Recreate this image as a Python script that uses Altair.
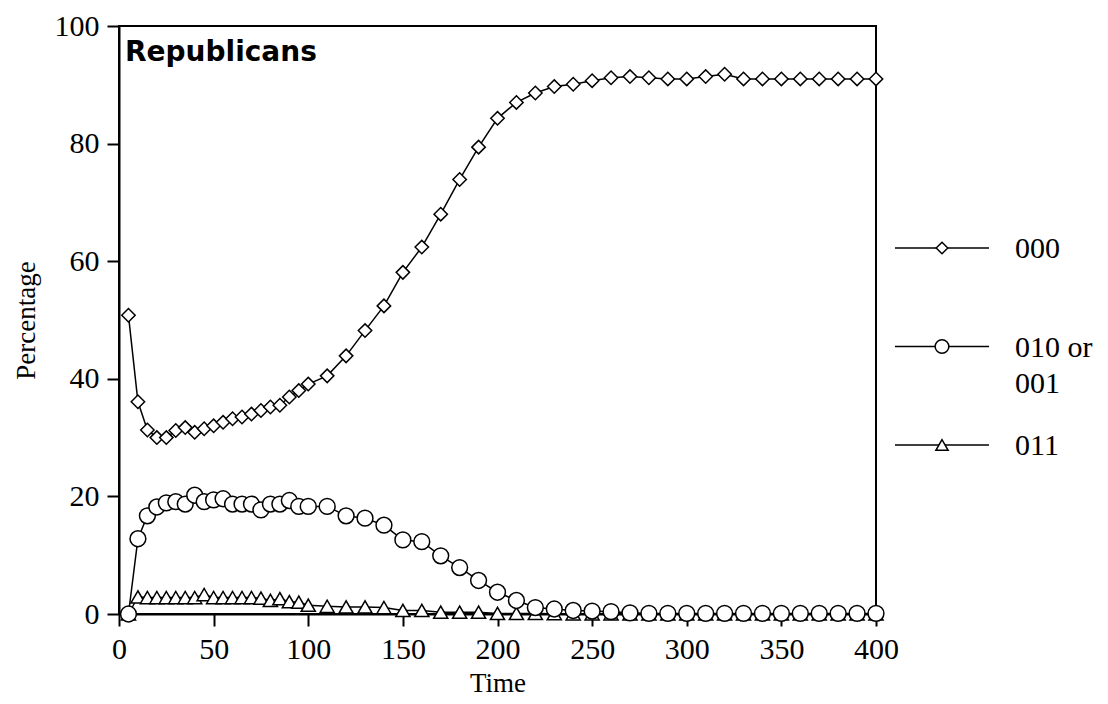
import altair as alt
import pandas as pd

# ---------------- data ----------------
times = [5, 10, 15, 20, 25, 30, 35, 40, 45, 50, 55, 60, 65, 70, 75, 80, 85, 90, 95, 100,
         110, 120, 130, 140, 150, 160, 170, 180, 190, 200,
         210, 220, 230, 240, 250, 260, 270, 280, 290, 300,
         310, 320, 330, 340, 350, 360, 370, 380, 390, 400]

pct_000 = [50.8, 36.1, 31.3, 30.0, 30.0, 31.2, 31.7, 30.9, 31.5, 32.0,
           32.6, 33.2, 33.5, 34.0, 34.6, 35.2, 35.5, 36.9, 38.0, 39.1,
           40.5, 43.9, 48.2, 52.4, 58.1, 62.4, 68.0, 73.9, 79.4, 84.3,
           87.0, 88.6, 89.7, 90.1, 90.7, 91.2, 91.4, 91.2, 91.0, 91.0,
           91.4, 91.8, 91.0, 91.0, 91.0, 91.0, 91.0, 91.0, 91.0, 91.0]

pct_010 = [0.0, 12.8, 16.7, 18.2, 18.9, 19.1, 18.7, 20.2, 19.1, 19.4,
           19.6, 18.7, 18.7, 18.7, 17.7, 18.7, 18.7, 19.3, 18.3, 18.3,
           18.3, 16.7, 16.3, 15.1, 12.6, 12.3, 9.9, 7.9, 5.7, 3.7,
           2.3, 1.1, 0.85, 0.6, 0.5, 0.4, 0.2, 0.1, 0.1, 0.1,
           0.1, 0.1, 0.1, 0.1, 0.1, 0.1, 0.1, 0.1, 0.1, 0.1]

pct_011 = [0.0, 2.9, 2.8, 2.8, 2.8, 2.8, 2.8, 2.8, 3.3, 2.8,
           2.8, 2.8, 2.8, 2.8, 2.7, 2.3, 2.6, 2.1, 2.0, 1.5,
           1.3, 1.2, 1.2, 1.1, 0.6, 0.6, 0.3, 0.3, 0.3, 0.1,
           0.1, 0.1, 0.05, 0.0, 0.0, 0.0, 0.0, 0.0, 0.0, 0.0,
           0.0, 0.0, 0.0, 0.0, 0.0, 0.0, 0.0, 0.0, 0.0, 0.0]

series_names = ["000", "010 or 001", "011"]
legend_labels = ["000", "010 or\n001", "011"]
panel_title = "Republicans"
x_ticks = [0, 50, 100, 150, 200, 250, 300, 350, 400]
y_ticks = [0, 20, 40, 60, 80, 100]

# styles (kept apart from the data)
shapes = {"000": "diamond", "010 or 001": "circle", "011": "triangle-up"}
sizes = {"000": 180, "010 or 001": 250, "011": 200}

rows = []
for name, vals in [("011", pct_011), ("010 or 001", pct_010), ("000", pct_000)]:
    for t, v in zip(times, vals):
        rows.append({"Time": t, "Percentage": v, "series": name})
df = pd.DataFrame(rows)

SERIF = "Liberation Serif"

x_enc = alt.X("Time:Q", scale=alt.Scale(domain=[0, 400], nice=False),
              axis=alt.Axis(values=x_ticks, title="Time", titlePadding=6, labelFlush=False))
y_enc = alt.Y("Percentage:Q", scale=alt.Scale(domain=[0, 100], nice=False),
              axis=alt.Axis(values=y_ticks, title="Percentage", titlePadding=14))

base = alt.Chart(df)
lines = base.mark_line(color="black", strokeWidth=1.5).encode(
    x=x_enc, y=y_enc, detail="series:N")

layers = [lines]
for name in ["011", "010 or 001", "000"]:
    layers.append(
        base.transform_filter(alt.datum.series == name)
        .mark_point(shape=shapes[name], size=sizes[name], filled=True,
                    fill="white", stroke="black", strokeWidth=1.5, opacity=1)
        .encode(x=x_enc, y=y_enc)
    )

title_txt = alt.Chart(pd.DataFrame({"label": [panel_title]})).mark_text(
    align="left", baseline="alphabetic", font="DejaVu Sans", fontWeight="bold",
    fontSize=28, color="black"
).encode(text="label:N", x=alt.value(6), y=alt.value(35))
layers.append(title_txt)

main = alt.layer(*layers).properties(
    width=757, height=588,
    view=alt.ViewBackground(stroke="black", strokeWidth=2)
)

# ---------------- custom legend panel ----------------
leg_df = pd.DataFrame({"series": series_names, "label": legend_labels})
ly = alt.Y("series:N", scale=alt.Scale(type="point", domain=series_names,
                                       range=[222, 419], padding=0), axis=None)
leg_base = alt.Chart(leg_df)
leg_layers = [
    leg_base.mark_rule(color="black", strokeWidth=1.5).encode(
        x=alt.value(0), x2=alt.value(94), y=ly)
]
for name in series_names:
    leg_layers.append(
        leg_base.transform_filter(alt.datum.series == name)
        .mark_point(shape=shapes[name], size=sizes[name] * 0.75, filled=True,
                    fill="white", stroke="black", strokeWidth=1.5, opacity=1)
        .encode(x=alt.value(47), y=ly)
    )
leg_layers.append(
    leg_base.mark_text(align="left", baseline="alphabetic", dy=10, font=SERIF,
                       fontSize=30, lineBreak="\n", lineHeight=36, color="black")
    .encode(x=alt.value(120), y=ly, text="label:N")
)
legend = alt.layer(*leg_layers).properties(
    width=190, height=588,
    view=alt.ViewBackground(stroke="transparent")
)

chart = alt.hconcat(
    main, legend, spacing=19, bounds="flush",
    padding={"top": 2, "left": 3, "right": 5, "bottom": 5}
).configure(
    background="white"
).configure_axis(
    labelFont=SERIF, labelFontSize=30, labelColor="black", labelPadding=8,
    titleFont=SERIF, titleFontSize=27, titleFontWeight="normal", titleColor="black",
    domainColor="black", domainWidth=2, tickColor="black", tickWidth=2, tickSize=12,
    grid=False
)

chart.save("out.html", embed_options={"renderer": "svg", "actions": False})
